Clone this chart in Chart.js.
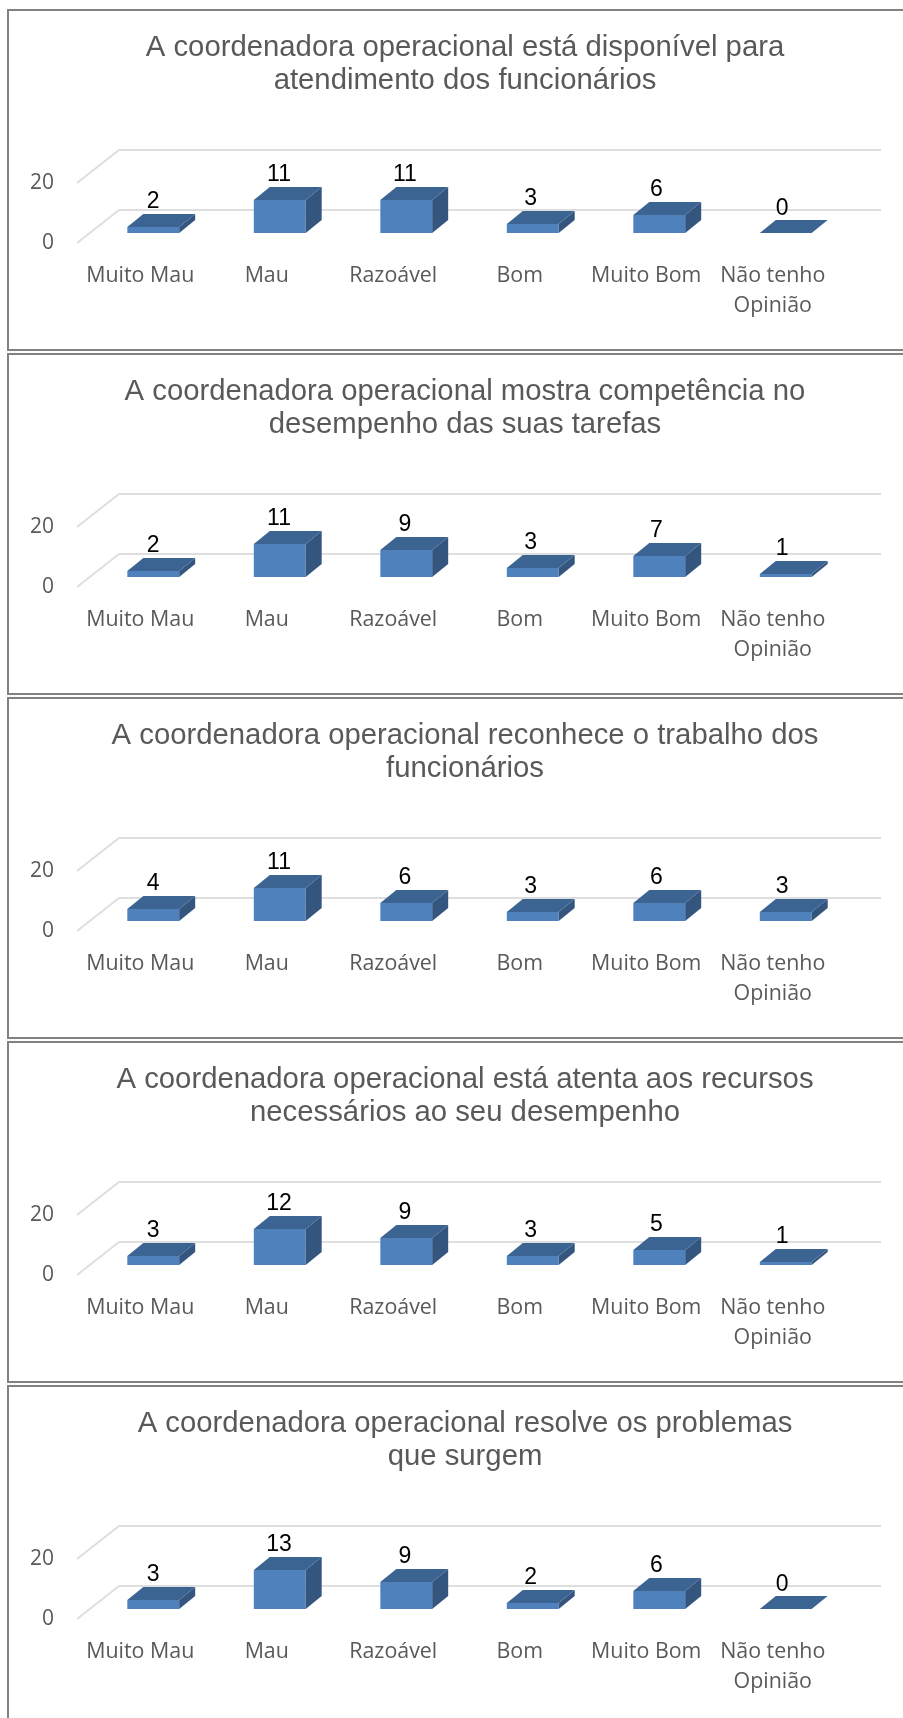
<!DOCTYPE html>
<html><head><meta charset="utf-8">
<script src="https://cdn.jsdelivr.net/npm/chart.js@4"></script>
<style>
html,body{margin:0;padding:0;background:#fff;width:903px;height:1718px;overflow:hidden}
.panel{position:absolute;left:7px;width:915px;height:342px;border:2px solid #828282;box-sizing:border-box}
canvas{position:absolute;left:8px}
</style></head><body>
<script>
const categories = ['Muito Mau','Mau','Razoável','Bom','Muito Bom',['Não tenho','Opinião']];
const yTickValues = [0,20];

const titleA = ['A coordenadora operacional está disponível para','atendimento dos funcionários'];
const titleB = ['A coordenadora operacional mostra competência no','desempenho das suas tarefas'];
const titleC = ['A coordenadora operacional reconhece o trabalho dos','funcionários'];
const titleD = ['A coordenadora operacional está atenta aos recursos','necessários ao seu desempenho'];
const titleE = ['A coordenadora operacional resolve os problemas','que surgem'];

const valuesA = [2,11,11,3,6,0];
const valuesB = [2,11,9,3,7,1];
const valuesC = [4,11,6,3,6,3];
const valuesD = [3,12,9,3,5,1];
const valuesE = [3,13,9,2,6,0];

const panels = [[titleA,valuesA],[titleB,valuesB],[titleC,valuesC],[titleD,valuesD],[titleE,valuesE]];

const W=914,H=341,PLOT_BOTTOM=234;
const BAR_DX=13,BAR_DY=-10,DX=16,DY=-13,FLOOR_DX=42,FLOOR_DY=-33;

const bars3d={
  id:'bars3d',
  afterLayout(chart){
    if(chart.titleBlock){chart.titleBlock.left=0;chart.titleBlock.right=chart.width;}
  },
  beforeDatasetsDraw(chart){
    const {ctx,scales:{y},chartArea:a}=chart;
    ctx.save();
    ctx.strokeStyle='#dedede';ctx.lineWidth=2;
    yTickValues.forEach(v=>{
      const py=y.getPixelForValue(v);
      ctx.beginPath();ctx.moveTo(a.left,py);ctx.lineTo(a.left+FLOOR_DX,py+FLOOR_DY);
      ctx.lineTo(a.right+FLOOR_DX+3,py+FLOOR_DY);ctx.stroke();
    });
    ctx.restore();
    ctx.save();
    ctx.translate(BAR_DX,BAR_DY);
  },
  afterDatasetsDraw(chart){
    const {ctx}=chart;
    const meta=chart.getDatasetMeta(0);
    const data=chart.data.datasets[0].data;
    meta.data.forEach((el,i)=>{
      const l=el.x-el.width/2,r=el.x+el.width/2,t=el.y,b=el.base;
      if(b-t>0){
        ctx.fillStyle='#33557e';
        ctx.beginPath();ctx.moveTo(r,t);ctx.lineTo(r+DX,t+DY);ctx.lineTo(r+DX,b+DY);ctx.lineTo(r,b);ctx.closePath();ctx.fill();
      }
      ctx.fillStyle='#3c6492';
      ctx.beginPath();ctx.moveTo(l,t);ctx.lineTo(l+DX,t+DY);ctx.lineTo(r+DX,t+DY);ctx.lineTo(r,t);ctx.closePath();ctx.fill();
      ctx.fillStyle='#000';ctx.font='23px "Liberation Sans"';ctx.textAlign='center';ctx.textBaseline='alphabetic';
      ctx.fillText(String(data[i]),el.x-0.7*i,t+DY-5.5);
    });
    ctx.restore();
  }
};

panels.forEach(([title,values],i)=>{
  const top=9+344*i;
  const box=document.createElement('div');box.className='panel';box.style.top=top+'px';document.body.appendChild(box);
  const c=document.createElement('canvas');c.width=W;c.height=H;c.style.top=top+'px';c.style.width=W+'px';c.style.height=H+'px';document.body.appendChild(c);
  new Chart(c,{
    type:'bar',
    data:{labels:categories,datasets:[{data:values,backgroundColor:'#4f81bd',borderWidth:0,barPercentage:0.41,categoryPercentage:1,clip:false}]},
    plugins:[bars3d],
    options:{
      responsive:false,animation:false,devicePixelRatio:1,
      layout:{padding:{left:0,right:86,top:0,bottom:0}},
      plugins:{
        legend:{display:false},tooltip:{enabled:false},
        title:{display:true,text:title,color:'#595959',font:{family:'"Liberation Sans"',size:29.3,weight:'normal',lineHeight:1.126},padding:{top:22,bottom:86}}
      },
      scales:{
        x:{grid:{display:false},border:{display:false},
           ticks:{autoSkip:false,maxRotation:0,minRotation:0,padding:10,color:'#595959',font:{family:'"Open Sans"',size:21.4,lineHeight:1.4}},
           afterFit(s){s.height=H-PLOT_BOTTOM;}},
        y:{min:0,max:20,grid:{display:false},border:{display:false},
           ticks:{stepSize:20,padding:15,color:'#595959',font:{family:'"Open Sans"',size:21}},
           afterFit(s){s.width=69;}}
      }
    }
  });
});
</script>
</body></html>
